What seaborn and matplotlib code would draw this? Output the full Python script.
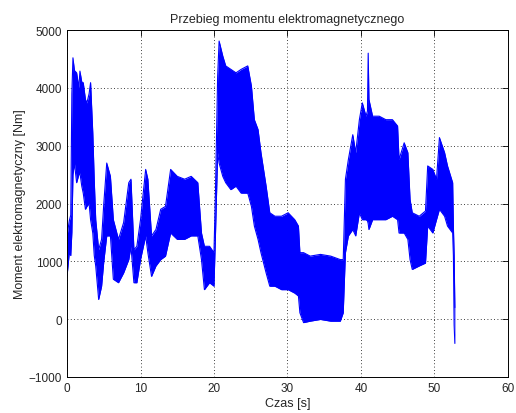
import matplotlib
matplotlib.use("Agg")
import matplotlib.pyplot as plt
import seaborn as sns
import pandas as pd

# envelope of the noisy torque band
czas = [0.0, 0.3, 0.5, 0.65, 0.8, 1.0, 1.3, 1.6, 1.75, 2.0, 2.2, 2.5, 2.7, 3.0,
        3.2, 3.5, 3.7, 3.9, 4.3, 4.7, 5.0, 5.4, 5.9, 6.3, 7.0, 7.7, 8.4, 8.7,
        9.1, 9.5, 10.0, 10.7, 11.0, 11.5, 12.1, 12.75, 13.4, 14.1, 15.0, 16.0,
        16.9, 17.8, 18.3, 18.7, 19.4, 20.0, 20.2, 20.5, 20.7, 21.2, 21.6, 22.3,
        23.0, 23.7, 24.6, 25.1, 25.5, 26.0, 26.4, 27.1, 27.6, 28.3, 29.2, 30.1,
        31.0, 31.5, 31.7, 32.2, 33.1, 34.5, 35.9, 37.2, 37.6, 37.9, 38.3, 38.9,
        39.3, 39.8, 40.2, 40.7, 40.9, 41.0, 41.1, 41.6, 42.5, 43.4, 44.3, 45.0,
        45.2, 45.9, 46.4, 46.7, 47.0, 47.95, 48.8, 49.1, 49.8, 50.3, 50.7, 51.4,
        51.8, 52.5, 52.6, 52.7, 52.8]
moment_max = [1450, 1700, 1800, 3900, 4520, 4300, 4260, 4000, 4290, 4100, 4090,
              3800, 3740, 3900, 4090, 3220, 2400, 1720, 1200, 1380, 2000, 2700,
              2470, 1720, 1380, 1670, 2360, 2420, 1200, 1260, 1720, 2590, 2420,
              1440, 1550, 1900, 1950, 2590, 2470, 2420, 2470, 2360, 1490, 1260,
              1260, 1150, 2180, 4200, 4810, 4550, 4380, 4320, 4260, 4320, 4380,
              4030, 3450, 3280, 2880, 2300, 1840, 1780, 1780, 1840, 1720, 1610,
              1150, 1150, 1090, 1120, 1090, 1030, 1030, 2420, 2760, 3190, 2880,
              3450, 3740, 3510, 3600, 4600, 3800, 3510, 3510, 3450, 3450, 3340,
              2760, 3050, 2880, 2070, 1840, 1780, 1870, 2650, 2590, 2420, 3140,
              2880, 2650, 2360, 1600, 1100, 200]
moment_min = [750, 1150, 1100, 1500, 2500, 2700, 2360, 2500, 2530, 2300, 2180,
              1900, 1950, 2000, 1720, 1490, 1100, 920, 340, 570, 1000, 1440,
              1440, 690, 630, 800, 1030, 1260, 630, 630, 1030, 1440, 1150, 740,
              920, 1030, 1090, 1490, 1380, 1380, 1440, 1440, 1030, 510, 630,
              570, 1440, 2880, 2700, 2470, 2360, 2240, 2300, 2180, 2180, 1950,
              1610, 1380, 1150, 800, 570, 570, 510, 510, 450, 400, 110, -60,
              -35, -5, -35, -35, 110, 1150, 1440, 1550, 1440, 1840, 1720, 1720,
              1700, 1650, 1550, 1720, 1720, 1720, 1780, 1720, 1490, 1490, 1380,
              1030, 860, 920, 970, 1610, 1490, 1720, 1900, 1780, 1610, 1490,
              1100, -100, -420]

df = pd.DataFrame({"czas": czas, "max": moment_max, "min": moment_min})

sns.set_style("white")
plt.rcParams["font.family"] = ["Liberation Sans", "DejaVu Sans"]

fig = plt.figure(figsize=(5.16, 4.14), dpi=100)
ax = fig.add_axes([0.130, 0.087, 0.854, 0.838])

ax.fill_between(df["czas"], df["min"], df["max"], color="#0000ff", linewidth=0)
sns.lineplot(data=df, x="czas", y="max", ax=ax, color="#0000ff", linewidth=0.8)
sns.lineplot(data=df, x="czas", y="min", ax=ax, color="#0000ff", linewidth=0.8)

ax.set_xlim(0, 60)
ax.set_ylim(-1000, 5000)
ax.set_xticks(range(0, 61, 10))
ax.set_yticks(range(-1000, 5001, 1000))
ax.grid(True, color="black", linestyle=(0, (1, 3)), linewidth=0.6)
ax.tick_params(direction="in", top=True, right=True, labelsize=8.5,
               length=4, width=0.6, color="black")
for s in ax.spines.values():
    s.set_color("black")
    s.set_linewidth(0.7)

ax.set_title("Przebieg momentu elektromagnetycznego", fontsize=9)
ax.set_xlabel("Czas [s]", fontsize=9, labelpad=2)
ax.set_ylabel("Moment elektromagnetyczny [Nm]", fontsize=9, labelpad=2)

fig.savefig("out.png", dpi=100)
